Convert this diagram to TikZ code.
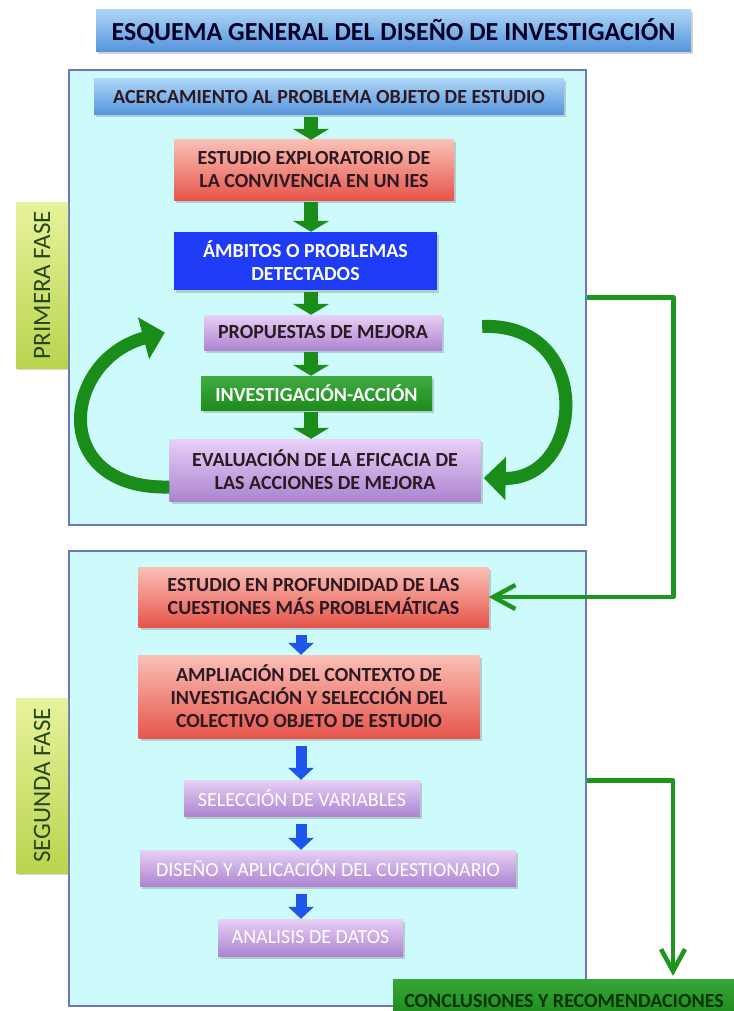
\documentclass[tikz,border=0pt]{standalone}
\usepackage{fontspec}
\setmainfont{Carlito}
\usetikzlibrary{arrows.meta, positioning, shadows}

\definecolor{cyanbg}{RGB}{205,250,250}
\definecolor{framecol}{RGB}{110,120,190}
\definecolor{bluetop}{RGB}{172,212,246}
\definecolor{bluebot}{RGB}{85,148,220}
\definecolor{redtop}{RGB}{250,192,182}
\definecolor{redbot}{RGB}{230,85,75}
\definecolor{purtop}{RGB}{232,208,246}
\definecolor{purbot}{RGB}{172,132,208}
\definecolor{ambblue}{RGB}{30,60,245}
\definecolor{accgreen}{RGB}{32,156,32}
\definecolor{arrgreen}{RGB}{25,140,25}
\definecolor{linkgreen}{RGB}{30,150,30}
\definecolor{arrblue}{RGB}{30,85,235}
\definecolor{fasel}{RGB}{232,242,155}
\definecolor{faser}{RGB}{185,212,78}
\definecolor{fasetxt}{RGB}{40,70,30}
\definecolor{txtdark}{RGB}{45,25,35}

\begin{document}
\begin{tikzpicture}[x=1pt, y=-1pt,
    frame/.style={draw=framecol, line width=1.3pt, fill=cyanbg, inner sep=0pt},
    box/.style={inner sep=0pt, align=center, text=txtdark,
      font=\bfseries\fontsize{20}{23}\selectfont,
      drop shadow={opacity=0.35, shadow xshift=2pt, shadow yshift=-2.5pt}},
    bluebox/.style={box, top color=bluetop, bottom color=bluebot},
    redbox/.style={box, top color=redtop, bottom color=redbot},
    purbox/.style={box, top color=purtop, bottom color=purbot},
    lightbox/.style={purbox, text=white, font=\fontsize{20}{23}\selectfont},
    fase/.style={inner sep=0pt, rotate=90, top color=fasel, bottom color=faser,
      text=fasetxt, font=\fontsize{25}{28}\selectfont,
      drop shadow={opacity=0.3, shadow xshift=2pt, shadow yshift=-2pt}},
    gdown/.style={draw=arrgreen, line width=14pt, shorten <=2pt,
      -{Triangle[width=36pt, length=11pt]}},
    bdown/.style={draw=arrblue, line width=11pt, shorten <=8pt,
      -{Triangle[width=25pt, length=12pt]}},
    loop/.style={draw=arrgreen, line width=13pt,
      -{Triangle[width=42pt, length=22pt]}},
    link/.style={draw=linkgreen, line width=4.5pt, line join=round,
      -{Straight Barb[length=22pt, width=24pt]}}
  ]
  \path[use as bounding box, fill=white] (0,0) rectangle (733,1011);

  % Frames
  \node[frame, minimum width=517pt, minimum height=455pt] (f1) at (327.5,297.5) {};
  \node[frame, minimum width=517pt, minimum height=455pt] (f2) at (327.5,778.5) {};
  \node[fase, minimum width=166pt, minimum height=52pt] (fase1) at (42,285) {PRIMERA FASE};
  \node[fase, minimum width=175pt, minimum height=52pt] (fase2) at (42,785.5) {SEGUNDA FASE};

  % Title
  \node[bluebox, text=black!85!blue, font=\bfseries\fontsize{26}{30}\selectfont,
    minimum width=595pt, minimum height=42pt] (title) at (393.5,31)
    {ESQUEMA GENERAL DEL DISEÑO DE INVESTIGACIÓN};

  % Primera fase
  \node[bluebox, minimum width=470pt, minimum height=36pt] (acerc) at (329,97)
    {ACERCAMIENTO AL PROBLEMA OBJETO DE ESTUDIO};
  \node[redbox, minimum width=280pt, minimum height=60pt] (explor) at (314,170)
    {ESTUDIO EXPLORATORIO DE\\LA CONVIVENCIA EN UN IES};
  \node[box, fill=ambblue, text=white, minimum width=263pt, minimum height=58pt] (ambitos) at (305.5,261)
    {ÁMBITOS O PROBLEMAS\\DETECTADOS};
  \node[purbox, minimum width=238pt, minimum height=35pt] (prop) at (323,332.5)
    {PROPUESTAS DE MEJORA};
  \node[box, top color=accgreen!85!white, bottom color=accgreen!90!black, text=white,
    minimum width=231pt, minimum height=34pt] (invest) at (316.5,393)
    {INVESTIGACIÓN-ACCIÓN};
  \node[purbox, minimum width=311pt, minimum height=62pt] (eval) at (325,470)
    {EVALUACIÓN DE LA EFICACIA DE\\LAS ACCIONES DE MEJORA};

  \coordinate (ax1) at (311,0);
  \foreach \a/\b in {acerc/explor, explor/ambitos, ambitos/prop, prop/invest, invest/eval}
    \draw[gdown] (\a.south -| ax1) -- (\b.north -| ax1);

  % Cycle
  \draw[loop] ([yshift=-17pt]eval.west) .. controls (48,490) and (62,360) .. ([xshift=-39pt]prop.west);
  \draw[loop] ([xshift=40pt,yshift=6pt]prop.east) .. controls (595,322) and (585,480) .. ([xshift=3pt,yshift=-8pt]eval.east);

  % Segunda fase
  \node[redbox, minimum width=350pt, minimum height=60pt] (prof) at (313.5,597)
    {ESTUDIO EN PROFUNDIDAD DE LAS\\CUESTIONES MÁS PROBLEMÁTICAS};
  \node[redbox, minimum width=341pt, minimum height=83pt] (ampl) at (309,696.5)
    {AMPLIACIÓN DEL CONTEXTO DE\\INVESTIGACIÓN Y SELECCIÓN DEL\\COLECTIVO OBJETO DE ESTUDIO};
  \node[lightbox, minimum width=236pt, minimum height=36pt] (selvar) at (302,798)
    {SELECCIÓN DE VARIABLES};
  \node[lightbox, minimum width=376pt, minimum height=36pt] (diseno) at (328,868)
    {DISEÑO Y APLICACIÓN DEL CUESTIONARIO};
  \node[lightbox, minimum width=185pt, minimum height=37pt] (anal) at (310.5,937.5)
    {ANALISIS DE DATOS};

  \coordinate (ax2) at (301,0);
  \foreach \a/\b in {prof/ampl, ampl/selvar, selvar/diseno, diseno/anal}
    \draw[bdown] (\a.south -| ax2) -- (\b.north -| ax2);

  % Conclusiones
  \node[box, top color=accgreen!90!white, bottom color=accgreen!85!black, text=black!80!green,
    minimum width=342pt, minimum height=44pt] (concl) at (564,1001)
    {CONCLUSIONES Y RECOMENDACIONES};

  % Links between phases
  \draw[link] (f1.east) -- ++(87,0) |- (prof.east);
  \draw[link, shorten >=3pt] ([yshift=-2pt]f2.east) -| ([xshift=109pt]concl.north);
\end{tikzpicture}
\end{document}
